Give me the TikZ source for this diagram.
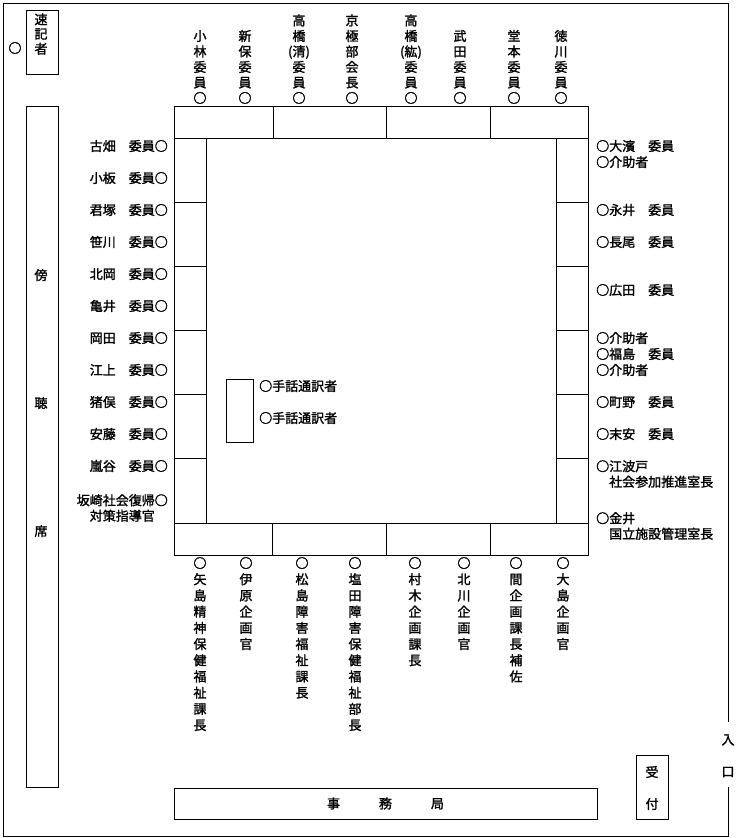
\documentclass[tikz,border=0pt]{standalone}
\usepackage{fontspec}
\setmainfont{Noto Sans CJK JP}[AutoFakeBold=1.6]
\tikzset{
	wall/.style={line width=1pt},
	desk/.style={draw, line width=1pt},
	seat/.style={inner sep=0pt, font=\fontsize{13}{15.5}\selectfont\bfseries},
	leftseat/.style={seat, anchor=east, align=left},
	rightseat/.style={seat, anchor=west, align=left},
	topseat/.style={seat, anchor=south, align=center},
	bottomseat/.style={seat, anchor=north, align=center, font=\fontsize{13}{16.2}\selectfont\bfseries},
	sign/.style={seat}
}

\begin{document}
\begin{tikzpicture}[x=1pt, y=-1pt]

\useasboundingbox (0,0) rectangle (740,838);

% room
\draw [wall] (728,722) -- (728,3) -- (3,3) -- (3,836) -- (728,836) -- (728,787);

% tables
\draw [desk] (174,106) rectangle (588,138);
\draw [desk] (273,106) -- (273,138) (386,106) -- (386,138) (490,106) -- (490,138);
\draw [desk] (174,523) rectangle (588,555);
\draw [desk] (272,523) -- (272,555) (386,523) -- (386,555) (490,523) -- (490,555);
\draw [desk] (174,138) rectangle (206,523);
\draw [desk] (556,138) rectangle (588,523);
\foreach \y in {202,266,330,394,458}
	\draw [desk] (174,\y) -- (206,\y) (556,\y) -- (588,\y);
\draw [desk] (226,379) rectangle (253,442);

% side boxes
\draw [desk] (26,10) rectangle (58,74);
\draw [desk] (26,106) rectangle (58,787);
\draw [desk] (174,788) rectangle (597,819);
\draw [desk] (636,755) rectangle (668,819);

\node[sign] (steno) at (41,34) {\fontsize{13}{16}\selectfont\shortstack{速\\記\\者}};
\node[sign] (stenoseat) at (15,48) {○};
\node[sign] (bo) at (41,275) {傍};
\node[sign] (cho) at (41,403) {聴};
\node[sign] (seki) at (41,531) {席};
\node[sign] (office) at (385.5,803.5) {事　　　務　　　局};
\node[sign] (uke) at (652,772) {受};
\node[sign] (tsuke) at (652,804) {付};
\node[sign] (iri) at (728,740) {入};
\node[sign] (guchi) at (728,772) {口};

% top row
\node[topseat] (kobayashi) at (200,104) {小\\林\\委\\員\\○};
\node[topseat] (shinbo) at (245,104) {新\\保\\委\\員\\○};
\node[topseat] (takahashik) at (299,104) {高\\橋\\(清)\\委\\員\\○};
\node[topseat] (kyogoku) at (352,104) {京\\極\\部\\会\\長\\○};
\node[topseat] (takahashih) at (411,104) {高\\橋\\(紘)\\委\\員\\○};
\node[topseat] (takeda) at (460,104) {武\\田\\委\\員\\○};
\node[topseat] (domoto) at (514,104) {堂\\本\\委\\員\\○};
\node[topseat] (tokugawa) at (561,104) {徳\\川\\委\\員\\○};

% left row
\node[leftseat] (furuhata) at (168,146) {古畑　委員○};
\node[leftseat] (koita) at (168,178) {小板　委員○};
\node[leftseat] (kimizuka) at (168,210) {君塚　委員○};
\node[leftseat] (sasagawa) at (168,242) {笹川　委員○};
\node[leftseat] (kitaoka) at (168,274) {北岡　委員○};
\node[leftseat] (kamei) at (168,306) {亀井　委員○};
\node[leftseat] (okada) at (168,338) {岡田　委員○};
\node[leftseat] (egami) at (168,370) {江上　委員○};
\node[leftseat] (inomata) at (168,402) {猪俣　委員○};
\node[leftseat] (ando) at (168,434) {安藤　委員○};
\node[leftseat] (arashitani) at (168,466) {嵐谷　委員○};
\node[leftseat] (sakazaki) at (168,508) {坂崎社会復帰○\\　対策指導官};

% right row
\node[rightseat] (ohama) at (596,146) {○大濱　委員};
\node[rightseat] (helpera) at (596,162) {○介助者};
\node[rightseat] (nagai) at (596,210) {○永井　委員};
\node[rightseat] (nagao) at (596,242) {○長尾　委員};
\node[rightseat] (hirota) at (596,290) {○広田　委員};
\node[rightseat] (helperb) at (596,338) {○介助者};
\node[rightseat] (fukushima) at (596,354) {○福島　委員};
\node[rightseat] (helperc) at (596,370) {○介助者};
\node[rightseat] (machino) at (596,402) {○町野　委員};
\node[rightseat] (sueyasu) at (596,434) {○末安　委員};
\node[rightseat] (ebato) at (596,474) {○江波戸\\　社会参加推進室長};
\node[rightseat] (kanai) at (596,526) {○金井\\　国立施設管理室長};

% interpreters
\node[rightseat] (interpa) at (259,386) {○手話通訳者};
\node[rightseat] (interpb) at (259,418) {○手話通訳者};

% bottom row
\node[bottomseat] (yajima) at (200,557) {○\\矢\\島\\精\\神\\保\\健\\福\\祉\\課\\長};
\node[bottomseat] (ihara) at (246,557) {○\\伊\\原\\企\\画\\官};
\node[bottomseat] (matsushima) at (302,557) {○\\松\\島\\障\\害\\福\\祉\\課\\長};
\node[bottomseat] (shioda) at (355,557) {○\\塩\\田\\障\\害\\保\\健\\福\\祉\\部\\長};
\node[bottomseat] (muraki) at (415,557) {○\\村\\木\\企\\画\\課\\長};
\node[bottomseat] (kitagawa) at (464,557) {○\\北\\川\\企\\画\\官};
\node[bottomseat] (hazama) at (516,557) {○\\間\\企\\画\\課\\長\\補\\佐};
\node[bottomseat] (oshima) at (563,557) {○\\大\\島\\企\\画\\官};

\end{tikzpicture}
\end{document}
